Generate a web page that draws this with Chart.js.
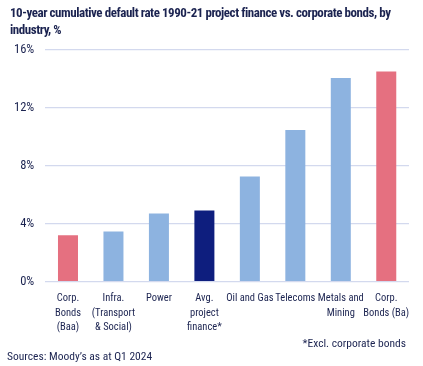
<!DOCTYPE html>
<html><head><meta charset="utf-8">
<script src="https://cdn.jsdelivr.net/npm/chart.js@4"></script>
<style>
html,body{margin:0;padding:0;background:#fff;}
#wrap{position:relative;width:423px;height:366px;overflow:hidden;font-family:'Roboto Condensed',sans-serif;color:#1B2350;}
#title{position:absolute;left:10px;top:4px;width:405px;font-size:13px;letter-spacing:-0.45px;font-weight:bold;line-height:17px;}
#note{position:absolute;right:17px;top:336px;font-size:11.5px;}
#src{position:absolute;left:7px;top:349px;font-size:11.5px;}
canvas{position:absolute;left:0;top:0;}
</style></head>
<body><div id="wrap">
<canvas id="c" width="423" height="366"></canvas>
<div id="title">10-year cumulative default rate 1990-21 project finance vs. corporate bonds, by industry, %</div>
<div id="note">*Excl. corporate bonds</div>
<div id="src">Sources: Moody’s as at Q1 2024</div>
</div>
<script>
const categories = [
  ["Corp.","Bonds","(Baa)"],
  ["Infra.","(Transport","& Social)"],
  ["Power"],
  ["Avg.","project","finance*"],
  ["Oil and Gas"],
  ["Telecoms"],
  ["Metals and","Mining"],
  ["Corp.","Bonds (Ba)"]
];
const values = [3.2, 3.45, 4.7, 4.9, 7.25, 10.45, 14.05, 14.5];
const barColors = ["#E57080","#8DB3E0","#8DB3E0","#0E1E7E","#8DB3E0","#8DB3E0","#8DB3E0","#E57080"];
const yTicks = [0, 4, 8, 12, 16];

const font = "'Roboto Condensed'";
new Chart(document.getElementById('c'), {
  type: 'bar',
  data: { labels: categories, datasets: [{ data: values, backgroundColor: barColors, barPercentage: 0.44, categoryPercentage: 1 }] },
  options: {
    responsive: false, animation: false,
    layout: { padding: { top: 49.7, right: 14, bottom: 29, left: 3 } },
    plugins: { legend: { display: false }, tooltip: { enabled: false } },
    scales: {
      y: {
        min: 0, max: 16,
        afterBuildTicks: a => { a.ticks = yTicks.map(v => ({ value: v })); },
        ticks: { callback: v => v + '%', color: '#1B2350', font: { family: font, size: 12.5 }, padding: 11 },
        grid: { color: '#D3D9EE', lineWidth: 1.2, drawTicks: false },
        border: { display: false }
      },
      x: {
        grid: { display: false },
        border: { display: false },
        ticks: { color: '#1B2350', font: { family: font, size: 10.5, lineHeight: '14.5px' }, maxRotation: 0, autoSkip: false, padding: 2 }
      }
    }
  }
});
</script>
</body></html>
